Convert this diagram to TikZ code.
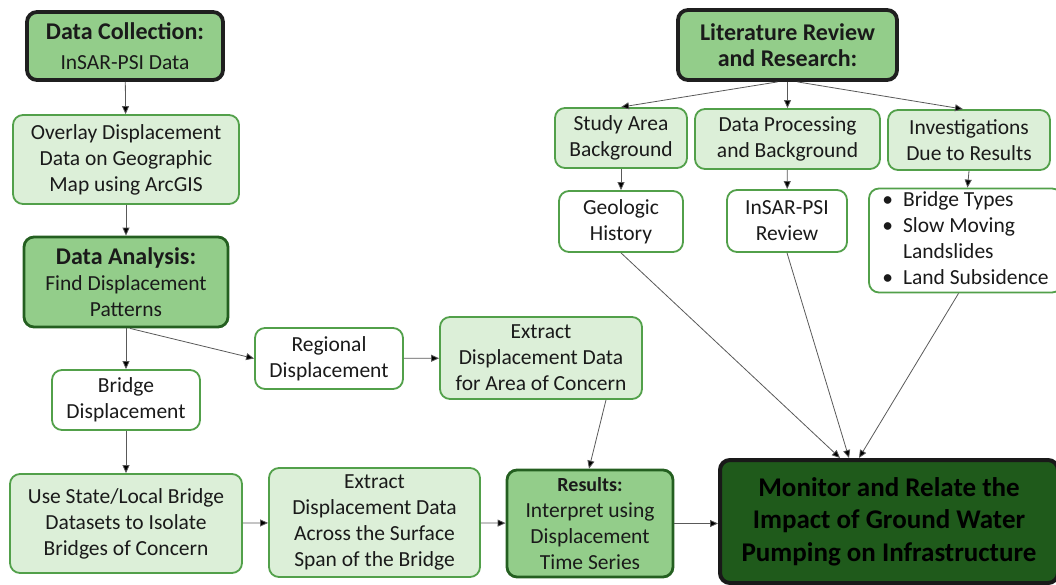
\documentclass[tikz,border=0pt]{standalone}
\usepackage{fontspec}
\setmainfont{Carlito}
\usetikzlibrary{arrows.meta,positioning}
\definecolor{midg}{HTML}{93CD8A}
\definecolor{lightg}{HTML}{DCEFD8}
\definecolor{bordg}{HTML}{52A04A}
\definecolor{darkb}{HTML}{245F20}
\definecolor{deepg}{HTML}{1F5A1B}
\definecolor{txt}{HTML}{1A1A1A}
\tikzset{
  base/.style={rounded corners=10pt, align=center, inner sep=0pt, text=txt,
    font=\fontsize{21.5}{26}\selectfont},
  lightbox/.style={base, fill=lightg, draw=bordg, line width=1.8pt},
  whitebox/.style={base, fill=white, draw=bordg, line width=1.8pt},
  midbox/.style={base, fill=midg, draw=darkb, line width=2.8pt},
  topbox/.style={base, fill=midg, draw=black!88, line width=3.8pt},
  finalbox/.style={base, fill=deepg, draw=black!90, line width=4pt, text=black,
    font=\fontsize{27}{32.5}\selectfont\bfseries},
  conn/.style={draw=black!65, line width=0.8pt, -{Triangle[length=8pt,width=7pt,fill=black]}},
}
\begin{document}
\begin{tikzpicture}[x=1pt,y=-1pt]
\useasboundingbox (0,0) rectangle (1056,584);
% left column
\node[topbox, minimum width=196pt, minimum height=68pt] (dc) at (125,46)
  {{\fontsize{24}{24}\selectfont\bfseries Data Collection:}\\[4pt]InSAR-PSI Data};
\node[lightbox, minimum width=226pt, minimum height=89pt] (ov) at (126,159.5)
  {Overlay Displacement\\Data on Geographic\\Map using ArcGIS};
\node[midbox, minimum width=204pt, minimum height=90pt] (da) at (126,282)
  {{\fontsize{24}{26}\selectfont\bfseries Data Analysis:}\\Find Displacement\\Patterns};
\node[whitebox, minimum width=148pt, minimum height=60pt] (bd) at (126,400)
  {Bridge\\Displacement};
\node[whitebox, minimum width=148pt, minimum height=61pt] (rd) at (329,358.5)
  {Regional\\Displacement};
\node[lightbox, minimum width=202pt, minimum height=82pt] (ea) at (541,358)
  {Extract\\Displacement Data\\for Area of Concern};
\node[lightbox, minimum width=232pt, minimum height=99pt] (us) at (126,523.5)
  {Use State/Local Bridge\\Datasets to Isolate\\Bridges of Concern};
\node[lightbox, minimum width=211pt, minimum height=109pt] (es) at (374.5,522.5)
  {Extract\\Displacement Data\\Across the Surface\\Span of the Bridge};
\node[midbox, minimum width=166pt, minimum height=107pt] (rs) at (590,523.5)
  {{\fontsize{20}{26}\selectfont\bfseries Results:}\\Interpret using\\Displacement\\Time Series};
\node[finalbox, minimum width=338pt, minimum height=123pt] (mo) at (889,521.5)
  {Monitor and Relate the\\Impact of Ground Water\\Pumping on Infrastructure};
% right top
\node[topbox, minimum width=219pt, minimum height=70pt] (lr) at (787.5,45)
  {{\fontsize{24}{28}\selectfont\bfseries Literature Review}\\{\fontsize{24}{28}\selectfont\bfseries and Research:}};
\node[lightbox, minimum width=132pt, minimum height=60pt] (sa) at (621,138)
  {Study Area\\Background};
\node[lightbox, minimum width=185pt, minimum height=60pt] (dp) at (787.5,139)
  {Data Processing\\and Background};
\node[lightbox, minimum width=162pt, minimum height=60pt] (iv) at (969,140)
  {Investigations\\Due to Results};
\node[whitebox, minimum width=124pt, minimum height=61pt] (gh) at (621,221.5)
  {Geologic\\History};
\node[whitebox, minimum width=120pt, minimum height=62pt] (ir) at (787,221)
  {InSAR-PSI\\Review};
\node[whitebox, minimum width=193pt, minimum height=101pt] (bl) at (965.5,240.5)
  {\begin{tabular}{@{}l@{\hspace{10pt}}l@{}}
   \textbullet & Bridge Types\\
   \textbullet & Slow Moving\\
    & Landslides\\
   \textbullet & Land Subsidence
   \end{tabular}};
% connectors
\draw[conn] (dc) -- (ov);
\draw[conn] (ov) -- (da);
\draw[conn] (da) -- (bd);
\coordinate (dasr) at ([xshift=4pt]da.south);
\draw[conn] (dasr) -- (rd.west);
\draw[conn] (rd) -- (ea);
\draw[conn] (bd) -- (us);
\draw[conn] (us) -- (es);
\draw[conn] (es) -- (rs);
\draw[conn] (rs.east) -- (rs.east -| mo.west);
\coordinate (eab) at ([xshift=65pt]ea.south);
\coordinate (rst) at ([xshift=-1pt]rs.north);
\draw[conn] (eab) -- (rst);
\coordinate (lra) at ([xshift=-10pt]lr.south);
\coordinate (lrc) at ([xshift=10pt]lr.south);
\draw[conn] (lra) -- (sa.north);
\draw[conn] (lr.south) -- (dp.north);
\draw[conn] (lrc) -- ([xshift=-6pt]iv.north);
\draw[conn] (sa) -- (gh);
\draw[conn] (dp) -- (ir);
\draw[conn] (iv.south) -- ([xshift=2pt]bl.north);
\coordinate (mo1) at ([xshift=-49pt]mo.north);
\coordinate (mo2) at ([xshift=-40pt]mo.north);
\coordinate (mo3) at ([xshift=-30pt]mo.north);
\draw[conn] (gh.south) -- (mo1);
\draw[conn] (ir.south) -- (mo2);
\draw[conn] ([xshift=-7pt]bl.south) -- (mo3);
\end{tikzpicture}
\end{document}
